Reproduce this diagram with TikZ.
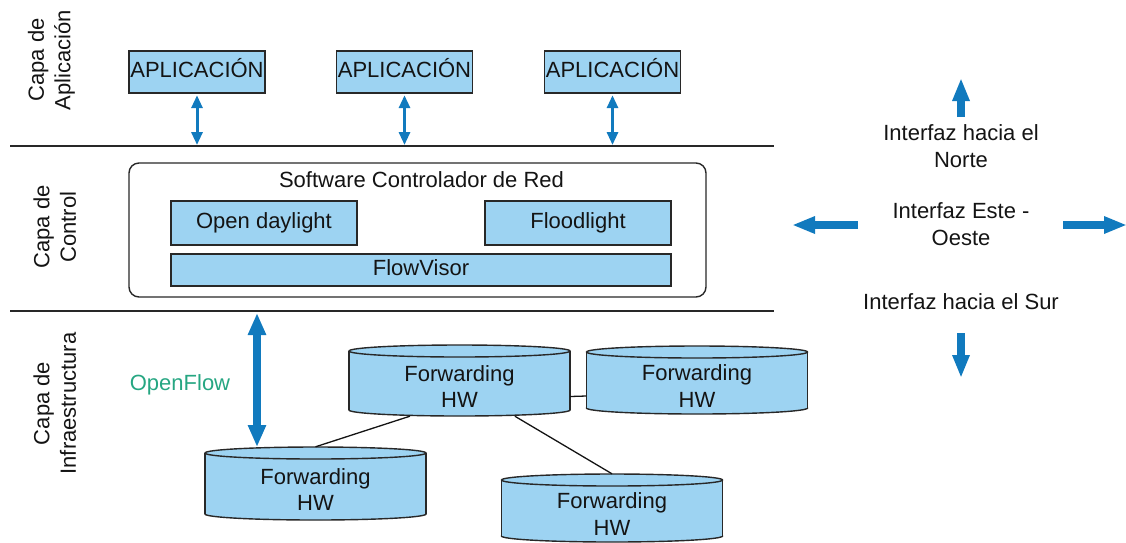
\documentclass[tikz,border=0pt]{standalone}
\usepackage{fontspec}
\setmainfont{Liberation Sans}
\usetikzlibrary{arrows.meta,calc}

\definecolor{boxblue}{RGB}{157,211,242}
\definecolor{arrblue}{RGB}{17,122,190}
\definecolor{ofgreen}{RGB}{38,166,130}
\definecolor{edge}{RGB}{40,40,40}
\definecolor{ink}{RGB}{20,20,20}

\tikzset{
  lbl/.style={font=\fontsize{22}{26.5}\selectfont, text=ink, inner sep=0pt, align=center},
  blubox/.style={lbl, draw=edge, line width=1.4pt, fill=boxblue,
                 text height=15.8pt, text depth=4.6pt},
  cylbox/.style={draw=none, inner sep=0pt, minimum width=221pt},
  cylline/.style={draw=edge, line width=1.4pt},
  cylface/.style={cylline, fill=boxblue},
  layerline/.style={draw=edge, line width=1.4pt},
  link/.style={draw=ink, line width=1.3pt},
  thinarr/.style={draw=arrblue, line width=3pt,
                  {Triangle[width=11pt,length=13pt]}-{Triangle[width=11pt,length=13pt]}},
  fatarr/.style={draw=arrblue, line width=7.5pt,
                 {Triangle[width=17pt,length=22pt]}-{Triangle[width=17pt,length=22pt]}},
  dirarr/.style={draw=arrblue, line width=7.5pt, -{Triangle[width=16pt,length=23pt]}}
}

% Forwarding hardware drum: name, centre x, top y, bottom y
\newcommand\fwcyl[4]{%
  \filldraw[cylface] (#2,{#4-6}) ellipse [x radius=110.5, y radius=6];
  \fill[boxblue] ({#2-110.5},{#3+6}) rectangle ({#2+110.5},{#4-6});
  \draw[cylline] ({#2-110.5},{#3+6}) -- ({#2-110.5},{#4-6})
                 ({#2+110.5},{#3+6}) -- ({#2+110.5},{#4-6});
  \filldraw[cylface] (#2,{#3+6}) ellipse [x radius=110.5, y radius=6];
  \node[cylbox, minimum height={(#4-#3)*1pt}] (#1) at (#2,{(#3+#4)/2}) {};
  \node[lbl] (#1t) at (#2,{(#3+#4)/2+6}) {Forwarding\\HW};
}

\begin{document}
\begin{tikzpicture}[x=1pt, y=-1pt]
\useasboundingbox (0,0) rectangle (1126,542);

% layer separators
\coordinate (sepAa) at (10,146);  \coordinate (sepAb) at (774,146);
\coordinate (sepBa) at (10,311);  \coordinate (sepBb) at (774,311);
\draw[layerline] (sepAa) -- (sepAb);
\draw[layerline] (sepBa) -- (sepBb);

% layer titles
\node[lbl, rotate=90] (tApp) at (51.5,60) {Capa de\\Aplicación};
\node[lbl, rotate=90] (tCtl) at (54.7,227) {Capa de\\Control};
\node[lbl, rotate=90] (tInf) at (54.7,403.5) {Capa de\\Infraestructura};

% application layer
\node[blubox, minimum width=136pt, minimum height=42pt] (app1) at (197,72) {APLICACIÓN};
\node[blubox, minimum width=136pt, minimum height=42pt] (app2) at (404.5,72) {APLICACIÓN};
\node[blubox, minimum width=136pt, minimum height=42pt] (app3) at (612.5,72) {APLICACIÓN};
\coordinate (d1) at (197,145);
\coordinate (d2) at (404.5,145);
\coordinate (d3) at (612.5,145);
\draw[thinarr, shorten <=1.5pt] (app1.south) -- (d1);
\draw[thinarr, shorten <=1.5pt] (app2.south) -- (d2);
\draw[thinarr, shorten <=1.5pt] (app3.south) -- (d3);

% control layer
\node[draw=edge, line width=1.4pt, rounded corners=10pt, fill=white,
      minimum width=577pt, minimum height=134pt, inner sep=0pt] (ctrl) at (417.5,230) {};
\node[lbl] (ctrlt) at (421.5,180) {Software Controlador de Red};
\node[blubox, minimum width=186pt, minimum height=44pt] (odl) at (264,223) {Open daylight};
\node[blubox, minimum width=186pt, minimum height=44pt] (fld) at (578,223) {Floodlight};
\node[blubox, minimum width=500pt, minimum height=32pt] (fv) at (421,270) {FlowVisor};

% infrastructure layer
\fwcyl{fA}{459.5}{345}{416}
\fwcyl{fB}{697}{346}{414}
\fwcyl{fC}{315.5}{447}{520}
\fwcyl{fD}{612}{474}{542}

\draw[link] ($(fA.south west)!0.276!(fA.south east)$) -- (fC.north);
\draw[link] ($(fA.south west)!0.75!(fA.south east)$) -- (fD.north);
\draw[link] ($(fA.east)+(0,16)$) -- ($(fB.west)+(0,16)$);

\coordinate (ofTop) at (257,313);
\coordinate (ofBot) at (257,447);
\draw[fatarr] (ofTop) -- (ofBot);
\node[lbl, text=ofgreen] (of) at (180,385) {OpenFlow};

% interface legend
\node[lbl] (north) at (961,146) {Interfaz hacia el\\Norte};
\node[lbl] (eastwest) at (961,224) {Interfaz Este -\\Oeste};
\node[lbl] (south) at (961,301.5) {Interfaz hacia el Sur};

\coordinate (nA) at (961,117);  \coordinate (nB) at (961,78);
\coordinate (wA) at (858,225);  \coordinate (wB) at (792,225);
\coordinate (eA) at (1063,225); \coordinate (eB) at (1127,225);
\coordinate (sA) at (961,333);  \coordinate (sB) at (961,378);
\draw[dirarr] (nA) -- (nB);
\draw[dirarr] (wA) -- (wB);
\draw[dirarr] (eA) -- (eB);
\draw[dirarr] (sA) -- (sB);
\end{tikzpicture}
\end{document}
